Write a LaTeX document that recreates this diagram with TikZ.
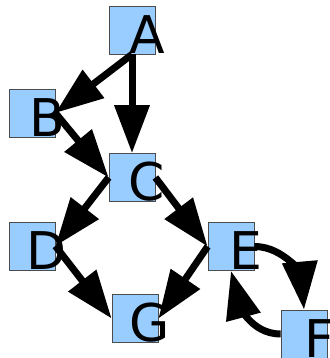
\documentclass[tikz,border=0pt]{standalone}
\usepackage{fontspec}
\setmainfont{DejaVu Sans}
\usetikzlibrary{arrows.meta}
\definecolor{boxblue}{RGB}{153,204,255}

\begin{document}
\begin{tikzpicture}[x=1pt, y=1pt,
    box/.style={draw=black!70, fill=boxblue, line width=0.8pt, minimum width=46pt, minimum height=48pt, inner sep=0pt},
    lbl/.style={anchor=base, xshift=15pt, yshift=1pt, inner sep=0pt, font=\fontsize{52}{52}\selectfont},
    edge/.style={line width=7pt, -{Triangle[length=48pt,width=34pt]}}]

  \useasboundingbox (0,0) rectangle (329,-358);

  \node[box, label={[lbl]south:A}] (a) at (132,-30) {};
  \node[box, label={[lbl]south:B}] (b) at (32,-113) {};
  \node[box, label={[lbl]south:C}] (c) at (132,-177.5) {};
  \node[box, label={[lbl]south:D}] (d) at (32,-246) {};
  \node[box, label={[lbl]south:E}] (e) at (231,-246.5) {};
  \node[box, label={[lbl]south:F}] (f) at (304,-334) {};
  \node[box, label={[lbl]south:G}] (g) at (135,-318.5) {};

  \draw[edge] (a.south) -- (b.east); %% A->B
  \draw[edge] (a.south) -- (c.north); %% A->C
  \draw[edge] (b.east) -- (c.west); %% B->C
  \draw[edge] (c.west) -- (d.east); %% C->D
  \draw[edge] (c.east) -- (e.west); %% C->E
  \draw[edge] (d.east) -- (g.west); %% D->G
  \draw[edge] (e.west) -- (g.east); %% E->G
  \draw[edge] (e.east) to[out=0, in=95] (f.north); %% E->F
  \draw[edge] (f.west) to[out=180, in=-75] (e.south); %% F->E
\end{tikzpicture}
\end{document}
